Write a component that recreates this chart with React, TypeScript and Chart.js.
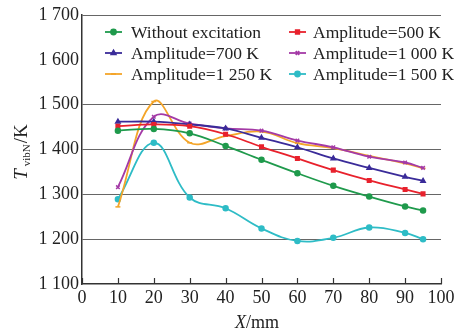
import React, { useEffect, useRef } from "react";
import { Chart, registerables } from "chart.js";
import { drawPoint } from "chart.js/helpers";

Chart.register(...registerables);

const xValues = [10, 20, 30, 40, 50, 60, 70, 80, 90, 95];
const seriesNames = [
  "Without excitation",
  "Amplitude=500 K",
  "Amplitude=700 K",
  "Amplitude=1 000 K",
  "Amplitude=1 250 K",
  "Amplitude=1 500 K",
];
const withoutExcitation = [1442, 1446, 1436, 1408, 1377, 1347, 1319, 1295, 1273, 1264];
const amp500 = [1452, 1456, 1452, 1434, 1406, 1380, 1354, 1331, 1311, 1301];
const amp700 = [1462, 1462, 1456, 1447, 1426, 1405, 1380, 1359, 1339, 1330];
const amp1000 = [1316, 1473, 1458, 1447, 1442, 1420, 1405, 1384, 1371, 1359];
const amp1250 = [1272, 1507, 1415, 1430, 1440, 1414, 1403, 1386, 1369, 1358];
const amp1500 = [1289, 1415, 1293, 1269, 1224, 1196, 1203, 1226, 1214, 1200];
const xTicks = [0, 10, 20, 30, 40, 50, 60, 70, 80, 90, 100];
const yTicks = [1100, 1200, 1300, 1400, 1500, 1600, 1700];

const colors = ["#1f9a4c", "#e8212c", "#3a2b99", "#a43aa6", "#f4a52a", "#2ebcc6"];
const styles = ["circle", "rect", "triangle", "crossRot", "line", "circle"];
const allSeries = [withoutExcitation, amp500, amp700, amp1000, amp1250, amp1500];

const FONT = "'Liberation Serif', 'DejaVu Serif', serif";

const fmt = (v: number) => String(v).replace(/\B(?=(\d{3})+(?!\d))/g, " ");

export default function App() {
  const ref = useRef<HTMLCanvasElement | null>(null);
  useEffect(() => {
    document.body.style.margin = "0";
    const canvas = ref.current!;
    const extras = {
      id: "extras",
      afterDraw(chart: any) {
        const ctx = chart.ctx as CanvasRenderingContext2D;
        const xs = chart.scales.x;
        const area = chart.chartArea;
        ctx.save();
        // inward x ticks
        ctx.strokeStyle = "#333";
        ctx.lineWidth = 1.2;
        xTicks.forEach((t) => {
          const px = Math.round(xs.getPixelForValue(t)) + 0.5;
          ctx.beginPath();
          ctx.moveTo(px, area.bottom);
          ctx.lineTo(px, area.bottom - 6);
          ctx.stroke();
        });
        // legend
        const colX = [105, 289];
        const textX = [131, 313];
        const rowY = [32, 53, 74];
        ctx.font = `17.5px ${FONT}`;
        ctx.textBaseline = "middle";
        ctx.textAlign = "left";
        chart.data.datasets.forEach((ds: any, i: number) => {
          const c = i % 2;
          const r = Math.floor(i / 2);
          const y = rowY[r];
          ctx.strokeStyle = ds.borderColor;
          ctx.lineWidth = 1.8;
          ctx.beginPath();
          ctx.moveTo(colX[c], y);
          ctx.lineTo(colX[c] + 17, y);
          ctx.stroke();
          ctx.fillStyle = ds.borderColor;
          drawPoint(
            ctx,
            { pointStyle: ds.pointStyle, radius: 2.5, rotation: 0, borderWidth: 1.5 } as any,
            colX[c] + 8.5,
            y
          );
          ctx.fillStyle = "#222";
          ctx.fillText(ds.label, textX[c], y + 1);
        });
        // x title
        ctx.fillStyle = "#222";
        ctx.textBaseline = "alphabetic";
        const xt1 = "X";
        const xt2 = "/mm";
        ctx.font = `italic 18px ${FONT}`;
        const w1 = ctx.measureText(xt1).width;
        ctx.font = `18px ${FONT}`;
        const w2 = ctx.measureText(xt2).width;
        const sx = 257 - (w1 + w2) / 2;
        ctx.font = `italic 18px ${FONT}`;
        ctx.fillText(xt1, sx, 328);
        ctx.font = `18px ${FONT}`;
        ctx.fillText(xt2, sx + w1, 328);
        // y title
        ctx.save();
        ctx.translate(27, 152);
        ctx.rotate(-Math.PI / 2);
        ctx.font = `italic 19px ${FONT}`;
        const a = ctx.measureText("T").width + 3;
        ctx.font = `11px ${FONT}`;
        const b = ctx.measureText("vibN").width;
        ctx.font = `19px ${FONT}`;
        const cw = ctx.measureText("/K").width;
        let p = -(a + b + cw + 1) / 2;
        ctx.font = `italic 19px ${FONT}`;
        ctx.fillText("T", p, 0);
        p += a;
        ctx.font = `11px ${FONT}`;
        ctx.fillText("vibN", p, 3);
        p += b + 1;
        ctx.font = `19px ${FONT}`;
        ctx.fillText("/K", p, 0);
        ctx.restore();
        ctx.restore();
      },
    };
    const chart = new Chart(canvas, {
      type: "line",
      data: {
        datasets: allSeries.map((s, i) => ({
          label: seriesNames[i],
          data: s.map((v, j) => ({ x: xValues[j], y: v })),
          borderColor: colors[i],
          backgroundColor: colors[i],
          pointStyle: styles[i] as any,
          pointRadius: 2.5,
          pointBorderWidth: 1.5,
          borderWidth: 1.8,
          tension: 0.4,
          fill: false,
        })),
      },
      options: {
        animation: false,
        responsive: false,
        maintainAspectRatio: false,
        layout: { padding: { left: 0, right: 25, top: 15, bottom: 0 } },
        plugins: { legend: { display: false }, tooltip: { enabled: false } },
        scales: {
          x: {
            type: "linear",
            min: 0,
            max: 100,
            afterBuildTicks: (s: any) => {
              s.ticks = xTicks.map((v) => ({ value: v }));
            },
            afterFit: (s: any) => {
              s.height = 50;
            },
            ticks: {
              font: { family: FONT, size: 18 },
              color: "#222",
              padding: 3,
              maxRotation: 0,
              autoSkip: false,
            },
            grid: { color: "rgba(0,0,0,0)", drawTicks: false },
            border: { display: true, color: "#333", width: 1.5 },
          },
          y: {
            type: "linear",
            min: 1100,
            max: 1700,
            afterBuildTicks: (s: any) => {
              s.ticks = yTicks.map((v) => ({ value: v }));
            },
            afterFit: (s: any) => {
              s.width = 82;
            },
            ticks: {
              font: { family: FONT, size: 18 },
              color: "#222",
              padding: 3,
              callback: (v: any) => fmt(Number(v)),
            },
            grid: {
              drawTicks: false,
              lineWidth: 1,
              color: (c: any) => {
                const v = c.tick && c.tick.value;
                return v === 1600 || v === 1100 ? "rgba(0,0,0,0)" : "#666";
              },
            },
            border: { display: true, color: "#333", width: 1.5 },
          },
        },
      },
      plugins: [extras],
    });
    return () => chart.destroy();
  }, []);
  return <canvas ref={ref} width={466} height={334} style={{ display: "block" }} />;
}
